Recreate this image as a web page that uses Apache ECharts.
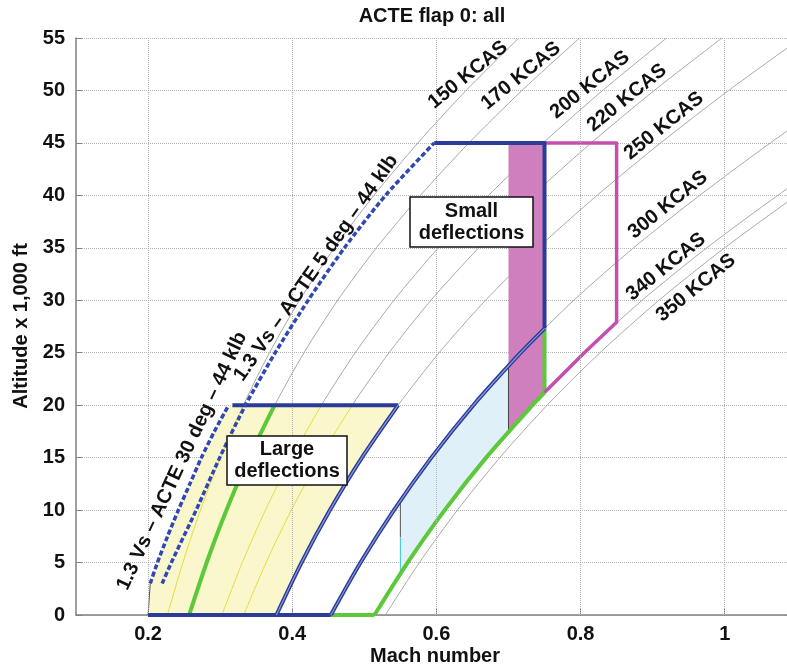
<!DOCTYPE html>
<html><head><meta charset="utf-8">
<script src="https://cdn.jsdelivr.net/npm/echarts@6/dist/echarts.min.js"></script>
<style>html,body{margin:0;padding:0;background:#fff}#c{width:787px;height:668px}</style>
</head><body><div id="c"></div>
<script>
// ---- tick labels ----
const xTicks = [0.2, 0.4, 0.6, 0.8, 1];
const yTicks = [0, 5, 10, 15, 20, 25, 30, 35, 40, 45, 50, 55];

// ---- constant KCAS curves: [Mach, altitude (1000 ft)] ----
const kcas150 = [[0.2268,0],[0.2483,5],[0.2727,10],[0.3004,15],[0.3321,20],[0.3684,25],[0.4101,30],[0.4584,35],[0.5134,40],[0.5743,45],[0.6412,50],[0.7143,55]];
const kcas170 = [[0.2570,0],[0.2813,5],[0.3088,10],[0.3400,15],[0.3756,20],[0.4163,25],[0.4630,30],[0.5168,35],[0.5779,40],[0.6451,45],[0.7187,50],[0.7986,55]];
const kcas200 = [[0.3024,0],[0.3307,5],[0.3628,10],[0.3991,15],[0.4404,20],[0.4874,25],[0.5411,30],[0.6027,35],[0.6723,40],[0.7482,45],[0.8306,50],[0.9194,55]];
const kcas220 = [[0.3326,0],[0.3637,5],[0.3987,10],[0.4383,15],[0.4832,20],[0.5343,25],[0.5924,30],[0.6588,35],[0.7335,40],[0.8147,45],[0.9023,50],[0.9961,55]];
const kcas250 = [[0.3780,0],[0.4129,5],[0.4523,10],[0.4967,15],[0.5469,20],[0.6037,25],[0.6681,30],[0.7412,35],[0.8229,40],[0.9111,45],[1.0055,50],[1.1060,55]];
const kcas300 = [[0.4535,0],[0.4948,5],[0.5411,10],[0.5930,15],[0.6513,20],[0.7169,25],[0.7906,30],[0.8735,35],[0.9653,40],[1.0633,45],[1.1672,50]];
const kcas340 = [[0.5140,0],[0.5601,5],[0.6115,10],[0.6690,15],[0.7333,20],[0.8052,25],[0.8854,30],[0.9751,35],[1.0736,40],[1.1780,45]];
const kcas350 = [[0.5291,0],[0.5764,5],[0.6291,10],[0.6879,15],[0.7536,20],[0.8269,25],[0.9087,30],[0.9999,35],[1.0999,40],[1.2058,45]];
const kcasCurves = [kcas150, kcas170, kcas200, kcas220, kcas250, kcas300, kcas340, kcas350];
const kcasLabels = ['150 KCAS','170 KCAS','200 KCAS','220 KCAS','250 KCAS','300 KCAS','340 KCAS','350 KCAS'];

// ---- 1.3 Vs stall boundaries ----
const stall30 = [[0.203,3],[0.213,5],[0.227,7.5],[0.242,10],[0.258,12.5],[0.274,15],[0.292,17.5],[0.311,19.9]];
const stall5  = [[0.2195,3],[0.2323,5],[0.2667,10],[0.2994,15],[0.3351,20],[0.3764,25],[0.4221,30],[0.4724,35],[0.5294,40],[0.597,45]];
const stallLabels = ['1.3 Vs \u2013 ACTE 30 deg \u2013 44 klb', '1.3 Vs \u2013 ACTE 5 deg \u2013 44 klb'];

// ---- envelope corners ----
const machLeft = 0.2;
const machBlueLo = 0.55, machPinkLo = 0.70, machLimit = 0.75, machMag = 0.85;
const hLow = 20, hHigh = 45;
const mTop20Left = 0.317;
const h300AtLimit = 27.3, h340AtLimit = 21.2, h340AtMag = 27.9;
const h300AtBlueLo = 10.9, h340AtBlueLo = 4.0, h300AtPinkLo = 23.8, h340AtPinkLo = 17.5;
const hCyanSplit = 7.4;

// ---- helpers to cut pieces out of the arrays ----
const upTo = (a, h) => a.filter(p => p[1] <= h);
const inM = (a, lo, hi) => a.filter(p => p[0] > lo && p[0] < hi);

const yellowPoly = [[machLeft, 0], ...upTo(kcas250, hLow), [mTop20Left, hLow], ...stall30.slice().reverse()];
const lightBluePoly = [[machBlueLo, h300AtBlueLo], ...inM(kcas300, machBlueLo, machPinkLo), [machPinkLo, h300AtPinkLo],
  [machPinkLo, h340AtPinkLo], ...inM(kcas340, machBlueLo, machPinkLo).reverse(), [machBlueLo, h340AtBlueLo]];
const pinkPoly = [[machPinkLo, h340AtPinkLo], [machLimit, h340AtLimit], [machLimit, hHigh], [machPinkLo, hHigh]];

const blue250 = upTo(kcas250, hLow);
const blue300 = [...upTo(kcas300, 25), [machLimit, h300AtLimit]];
const green170 = upTo(kcas170, hLow);
const green340 = [...upTo(kcas340, hLow), [machLimit, h340AtLimit]];
const greenVert = [[machLimit, h340AtLimit], [machLimit, h300AtLimit]];
const magentaLine = [[machLimit, h340AtLimit], ...inM(kcas340, machLimit, machMag), [machMag, h340AtMag], [machMag, hHigh], [machLimit, hHigh]];
const blueSmall = [[stall5[stall5.length-1][0], hHigh], [machLimit, hHigh], [machLimit, h300AtLimit]];
const blueTop20 = [[mTop20Left, hLow], [blue250[blue250.length-1][0], hLow]];
const blueBottom = [[machLeft, 0], [kcas300[0][0], 0]];
const greenBottom = [[kcas300[0][0], 0], [kcas340[0][0], 0]];
const yellowLines = [upTo(kcas150, hLow), upTo(kcas200, hLow), upTo(kcas220, hLow)];

const FONT = 'Liberation Sans, Arial, Helvetica, sans-serif';
const BLUE = '#2b3b98', GREEN = '#5cc83a', MAGENTA = '#c44fb1', DASH = '#2f48b3';
const SMOOTH = { smooth: 0.25 };

function line(data, color, width, z, extra) {
  return Object.assign({ type: 'line', data, symbol: 'none', showSymbol: false, silent: true, animation: false, z,
    lineStyle: { color, width, join: 'round' } }, extra || {});
}
function poly(points, fill, z) {
  return { type: 'custom', coordinateSystem: 'cartesian2d', silent: true, animation: false, z, data: [[0.5, 10]],
    renderItem: (params, api) => ({ type: 'polygon', shape: { points: points.map(p => api.coord(p)) }, style: { fill: fill, stroke: null } }) };
}

const series = [];
// vertical dotted grid lines at x ticks
series.push({ type: 'line', data: [], z: 0, silent: true, animation: false,
  markLine: { silent: true, symbol: 'none', animation: false, label: { show: false },
    lineStyle: { type: 'dotted', color: '#b4b4b4', width: 1 }, data: xTicks.map(v => ({ xAxis: v })) } });
kcasCurves.forEach(c => series.push(line(c, '#a9a9a9', 1, 1, SMOOTH)));
series.push(poly(yellowPoly, '#faf7cc', 2));
series.push(poly(lightBluePoly, '#dff0f9', 2));
series.push(poly(pinkPoly, '#cf7fbd', 2));
yellowLines.forEach(c => series.push(line(c, '#e6dc3c', 1, 3, SMOOTH)));
// thin edges of fills
series.push(line([[machBlueLo, h300AtBlueLo], [machBlueLo, hCyanSplit]], '#555', 1, 3));
series.push(line([[machBlueLo, hCyanSplit], [machBlueLo, h340AtBlueLo]], '#34c8d8', 1, 3));
series.push(line([[machPinkLo, h340AtPinkLo], [machPinkLo, h300AtPinkLo]], '#444', 1, 3));
series.push(line([[machLeft, 0], stall30[0]], '#555', 1, 3));
// envelope boundaries
series.push(line(green170, GREEN, 4, 4, SMOOTH));
series.push(line(greenBottom, GREEN, 4, 4));
series.push(line(green340, GREEN, 4, 4, SMOOTH));
series.push(line(greenVert, GREEN, 4, 4));
series.push(line(magentaLine, MAGENTA, 3.5, 4));
series.push(line(blue250, BLUE, 4, 5, SMOOTH));
series.push(line(blue250, '#8a97d8', 1.2, 6, SMOOTH));
series.push(line(blue300, BLUE, 4, 5, SMOOTH));
series.push(line(blue300, '#8a97d8', 1.2, 6, SMOOTH));
series.push(line(blueSmall, BLUE, 4, 5));
series.push(line(blueTop20, BLUE, 4, 5));
series.push(line(blueBottom, BLUE, 4, 5));
series.push(line(stall30, DASH, 3.5, 6, Object.assign({ lineStyle: { color: DASH, width: 3.5, type: [5, 2.5] } }, SMOOTH)));
series.push(line(stall5, DASH, 3.5, 6, Object.assign({ lineStyle: { color: DASH, width: 3.5, type: [5, 2.5] } }, SMOOTH)));

// label placements (pixels)
const kcasLabelPos = [[468,75],[521,76],[590,85],[627,98],[664,126],[668,205],[666,267],[696,288]];
const stallLabelPos = [[182,461,65],[316,268,55]];

const graphics = [];
const txt = (x, y, text, rot, extra) => Object.assign({ type: 'text', x, y, rotation: (rot || 0) * Math.PI / 180, z: 100, silent: true,
  style: { text, font: 'bold 20px ' + FONT, fill: '#111', align: 'center', verticalAlign: 'middle', textAlign: 'center', textVerticalAlign: 'middle' } }, extra || {});
graphics.push(txt(432, 16, 'ACTE flap 0: all'));
graphics.push(txt(435, 656, 'Mach number'));
graphics.push(txt(21, 326, 'Altitude x 1,000 ft', 90));
kcasLabels.forEach((t, i) => graphics.push(txt(kcasLabelPos[i][0], kcasLabelPos[i][1], t, 39)));
stallLabels.forEach((t, i) => graphics.push(txt(stallLabelPos[i][0], stallLabelPos[i][1], t, stallLabelPos[i][2])));
function box(x, y, w, h, text) {
  graphics.push({ type: 'rect', z: 100, silent: true, shape: { x, y, width: w, height: h }, style: { fill: '#fff', stroke: '#111', lineWidth: 1.5 } });
  graphics.push({ type: 'text', z: 101, silent: true, x: x + w / 2, y: y + h / 2,
    style: { text, font: 'bold 20px ' + FONT, fill: '#111', align: 'center', verticalAlign: 'middle', textAlign: 'center', textVerticalAlign: 'middle', lineHeight: 22 } });
}
box(227, 436, 120, 49, 'Large\ndeflections');
box(410, 197, 123, 50, 'Small\ndeflections');

const chart = echarts.init(document.getElementById('c'), null, { renderer: 'canvas' });
chart.setOption({
  animation: false,
  backgroundColor: '#fff',
  grid: { left: 76, top: 38, width: 720.8, height: 577, containLabel: false, outerBoundsMode: 'none' },
  xAxis: { type: 'value', min: 0.1, max: 1.1,
    splitLine: { show: false },
    axisLine: { show: true, onZero: false, lineStyle: { color: '#808080', width: 1.5 } },
    axisTick: { show: true, inside: true, length: 7, customValues: xTicks, lineStyle: { color: '#808080' } },
    axisLabel: { customValues: xTicks, fontSize: 20, fontWeight: 'bold', fontFamily: FONT, color: '#111', margin: 9, formatter: v => String(v) } },
  yAxis: { type: 'value', min: 0, max: 55, interval: 5,
    splitLine: { show: true, lineStyle: { type: 'dotted', color: '#b4b4b4', width: 1 } },
    axisLine: { show: true, lineStyle: { color: '#808080', width: 1.5 } },
    axisTick: { show: true, inside: true, length: 6, lineStyle: { color: '#808080' } },
    axisLabel: { fontSize: 20, fontWeight: 'bold', fontFamily: FONT, color: '#111', margin: 11 } },
  series,
  graphic: graphics
});
</script></body></html>
